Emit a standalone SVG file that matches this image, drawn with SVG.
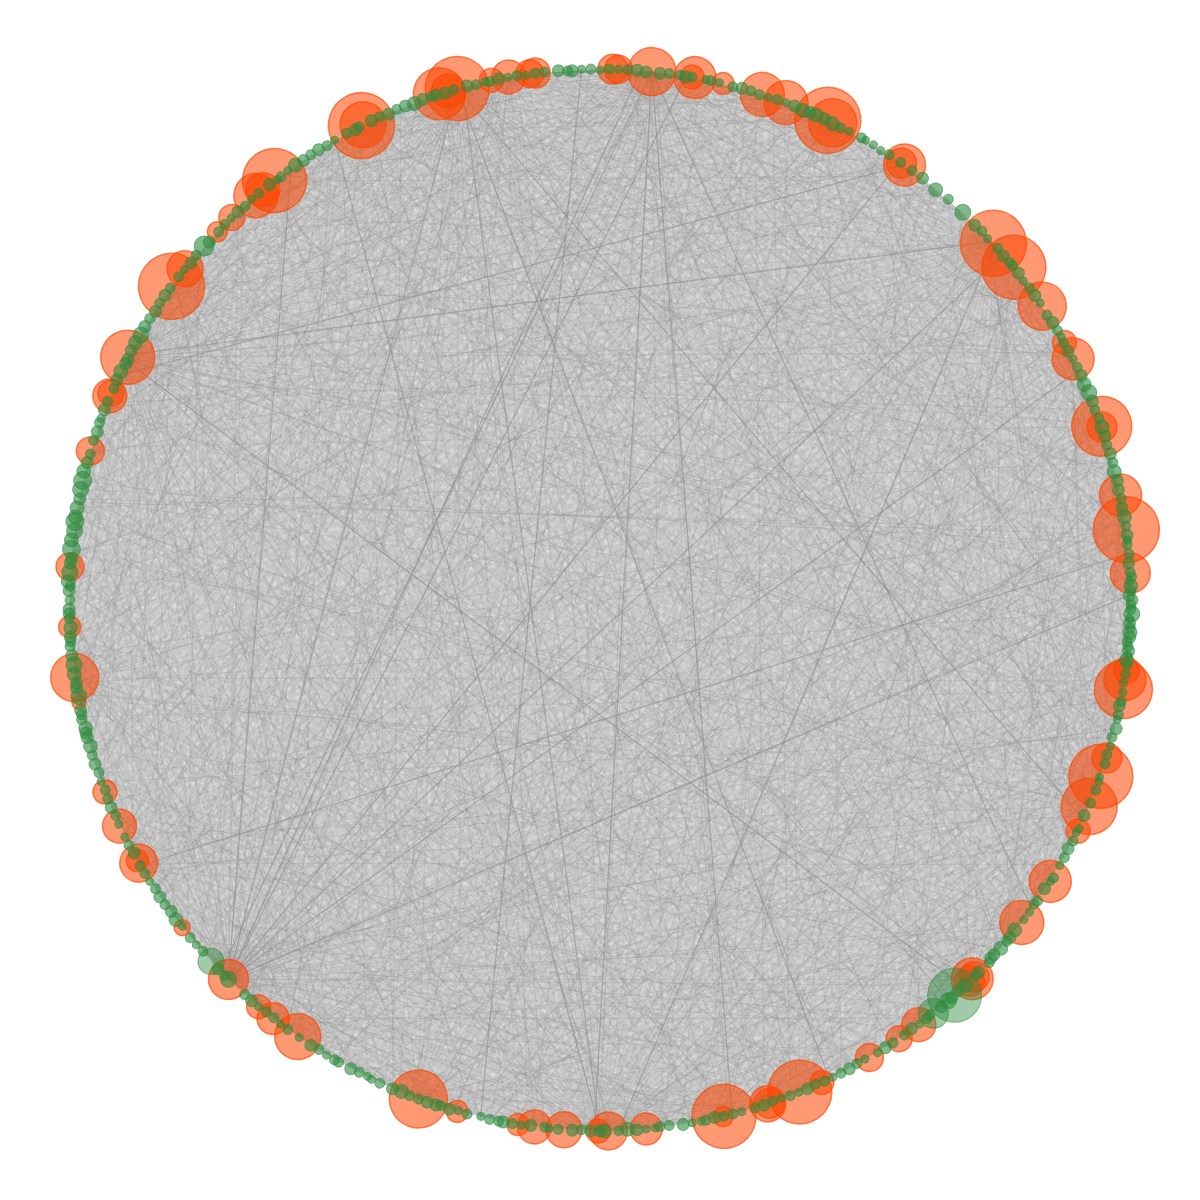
<svg xmlns="http://www.w3.org/2000/svg" width="1200" height="1200" viewBox="0 0 1200 1200">
<style>
.e{stroke:#8e8e8e;stroke-opacity:.26;stroke-width:1;fill:none}
.f{stroke:#8c8c8c;stroke-opacity:.2;stroke-width:1;fill:none}
.s{stroke:#8a8a8a;stroke-opacity:.55;stroke-width:1.3;fill:none}
.o{fill:#ff4500;fill-opacity:.55;stroke:#ff4500;stroke-opacity:.65;stroke-width:1.5}
.g{fill:#2e8b3e;fill-opacity:.6;stroke:#2e8b3e;stroke-opacity:.55;stroke-width:1}
.gl{fill:#2e8b3e;fill-opacity:.45;stroke:#2e8b3e;stroke-opacity:.5;stroke-width:1.2}
</style>
<defs>
<filter id="tex" x="0" y="0" width="100%" height="100%">
<feTurbulence type="fractalNoise" baseFrequency="0.22" numOctaves="2" seed="7" result="n"/>
<feColorMatrix in="n" type="matrix" values="0 0 0 0 1  0 0 0 0 1  0 0 0 0 1  0 0 0 2.2 -0.95" result="w"/>
<feComposite in="w" in2="SourceGraphic" operator="in"/>
</filter>
<clipPath id="disc"><circle cx="0" cy="0" r="531"/></clipPath>
<line id="ray" x1="0" y1="0" x2="-1080" y2="0"/>
<line id="c10" x1="531" y1="0" x2="522.9" y2="92.2"/>
<line id="c15" x1="531" y1="0" x2="512.9" y2="137.4"/>
<line id="c20" x1="531" y1="0" x2="499" y2="181.6"/>
<line id="c25" x1="531" y1="0" x2="481.2" y2="224.4"/>
<line id="c30" x1="531" y1="0" x2="459.8" y2="265.5"/>
<line id="c35" x1="531" y1="0" x2="435" y2="304.6"/>
<line id="c40" x1="531" y1="0" x2="406.8" y2="341.3"/>
<line id="c45" x1="531" y1="0" x2="375.5" y2="375.5"/>
<line id="c50" x1="531" y1="0" x2="341.3" y2="406.8"/>
<line id="c55" x1="531" y1="0" x2="304.6" y2="435"/>
<line id="c60" x1="531" y1="0" x2="265.5" y2="459.8"/>
<line id="c65" x1="531" y1="0" x2="224.4" y2="481.2"/>
<line id="c70" x1="531" y1="0" x2="181.6" y2="499"/>
<line id="c75" x1="531" y1="0" x2="137.4" y2="512.9"/>
<line id="c80" x1="531" y1="0" x2="92.2" y2="522.9"/>
<line id="c85" x1="531" y1="0" x2="46.3" y2="529"/>
<line id="c90" x1="531" y1="0" x2="0" y2="531"/>
<line id="c95" x1="531" y1="0" x2="-46.3" y2="529"/>
<line id="c100" x1="531" y1="0" x2="-92.2" y2="522.9"/>
<line id="c105" x1="531" y1="0" x2="-137.4" y2="512.9"/>
<line id="c110" x1="531" y1="0" x2="-181.6" y2="499"/>
<line id="c115" x1="531" y1="0" x2="-224.4" y2="481.2"/>
<line id="c120" x1="531" y1="0" x2="-265.5" y2="459.8"/>
<line id="c125" x1="531" y1="0" x2="-304.6" y2="435"/>
<line id="c130" x1="531" y1="0" x2="-341.3" y2="406.8"/>
<line id="c135" x1="531" y1="0" x2="-375.5" y2="375.5"/>
<line id="c140" x1="531" y1="0" x2="-406.8" y2="341.3"/>
<line id="c145" x1="531" y1="0" x2="-435" y2="304.6"/>
<line id="c150" x1="531" y1="0" x2="-459.8" y2="265.5"/>
<line id="c155" x1="531" y1="0" x2="-481.2" y2="224.4"/>
<line id="c160" x1="531" y1="0" x2="-499" y2="181.6"/>
<line id="c165" x1="531" y1="0" x2="-512.9" y2="137.4"/>
<line id="c170" x1="531" y1="0" x2="-522.9" y2="92.2"/>
<line id="c175" x1="531" y1="0" x2="-529" y2="46.3"/>
<line id="c180" x1="531" y1="0" x2="-531" y2="0"/>
<g id="fan">
<use href="#ray" transform="rotate(-84)"/><use href="#ray" transform="rotate(-80)"/><use href="#ray" transform="rotate(-76.5)"/><use href="#ray" transform="rotate(-73)"/><use href="#ray" transform="rotate(-69)"/><use href="#ray" transform="rotate(-66)"/><use href="#ray" transform="rotate(-62.5)"/><use href="#ray" transform="rotate(-59)"/><use href="#ray" transform="rotate(-55)"/><use href="#ray" transform="rotate(-52)"/><use href="#ray" transform="rotate(-48.5)"/><use href="#ray" transform="rotate(-45)"/><use href="#ray" transform="rotate(-41.5)"/><use href="#ray" transform="rotate(-38)"/><use href="#ray" transform="rotate(-35)"/><use href="#ray" transform="rotate(-31.5)"/><use href="#ray" transform="rotate(-28)"/><use href="#ray" transform="rotate(-24.5)"/><use href="#ray" transform="rotate(-21)"/><use href="#ray" transform="rotate(-17.5)"/><use href="#ray" transform="rotate(-14)"/><use href="#ray" transform="rotate(-10.5)"/><use href="#ray" transform="rotate(-7)"/><use href="#ray" transform="rotate(-3.5)"/><use href="#ray"/><use href="#ray" transform="rotate(3.3)"/><use href="#ray" transform="rotate(6.8)"/><use href="#ray" transform="rotate(10.2)"/><use href="#ray" transform="rotate(13.9)"/><use href="#ray" transform="rotate(17.1)"/><use href="#ray" transform="rotate(20.6)"/><use href="#ray" transform="rotate(24.2)"/><use href="#ray" transform="rotate(27.5)"/><use href="#ray" transform="rotate(31.1)"/><use href="#ray" transform="rotate(34.4)"/><use href="#ray" transform="rotate(37.9)"/><use href="#ray" transform="rotate(41.2)"/><use href="#ray" transform="rotate(44.8)"/><use href="#ray" transform="rotate(48.3)"/><use href="#ray" transform="rotate(51.6)"/><use href="#ray" transform="rotate(55.2)"/><use href="#ray" transform="rotate(58.7)"/><use href="#ray" transform="rotate(62.1)"/><use href="#ray" transform="rotate(65.6)"/><use href="#ray" transform="rotate(69.2)"/><use href="#ray" transform="rotate(72.5)"/><use href="#ray" transform="rotate(76.1)"/><use href="#ray" transform="rotate(79.4)"/><use href="#ray" transform="rotate(83)"/>
</g>
<g id="fan2">
<use href="#ray" transform="rotate(-82)"/><use href="#ray" transform="rotate(-74)"/><use href="#ray" transform="rotate(-65)"/><use href="#ray" transform="rotate(-57)"/><use href="#ray" transform="rotate(-49)"/><use href="#ray" transform="rotate(-41)"/><use href="#ray" transform="rotate(-33)"/><use href="#ray" transform="rotate(-25)"/><use href="#ray" transform="rotate(-17)"/><use href="#ray" transform="rotate(-9)"/><use href="#ray" transform="rotate(-1)"/><use href="#ray" transform="rotate(7.5)"/><use href="#ray" transform="rotate(15.5)"/><use href="#ray" transform="rotate(23.8)"/><use href="#ray" transform="rotate(31.7)"/><use href="#ray" transform="rotate(39.6)"/><use href="#ray" transform="rotate(47.9)"/><use href="#ray" transform="rotate(56.3)"/><use href="#ray" transform="rotate(64.4)"/><use href="#ray" transform="rotate(72.8)"/><use href="#ray" transform="rotate(81)"/>
</g>
</defs>
<rect width="1200" height="1200" fill="#ffffff"/>
<g id="hairball">
<circle cx="600" cy="600" r="530" fill="#c6c6c6"/>
<circle cx="600" cy="600" r="528" fill="#000" filter="url(#tex)" opacity="0.45"/>
</g>
<g id="edges" transform="translate(600 600)">
<g clip-path="url(#disc)">
<use href="#fan" class="f" transform="rotate(207.2) translate(531 0)"/>
<use href="#fan" class="f" transform="rotate(134.4) translate(531 0) rotate(1.3)"/>
<use href="#fan" class="f" transform="rotate(90) translate(531 0) rotate(2.1)"/>
<use href="#fan" class="f" transform="rotate(254.4) translate(531 0) rotate(-1.7)"/>
<use href="#fan" class="f" transform="rotate(275.6) translate(531 0) rotate(0.8)"/>
<use href="#fan" class="f" transform="rotate(317.8) translate(531 0) rotate(-0.6)"/>
<use href="#fan2" class="f" transform="rotate(243.3) translate(531 0) rotate(0.9)"/>
<use href="#fan2" class="f" transform="rotate(295.4) translate(531 0) rotate(-1.2)"/>
<use href="#fan2" class="f" transform="rotate(76.5) translate(531 0) rotate(1.8)"/>
<use href="#fan2" class="f" transform="rotate(45.5) translate(531 0) rotate(-0.4)"/>
<use href="#fan2" class="f" transform="rotate(340.9) translate(531 0) rotate(2.4)"/>
<use href="#fan2" class="f" transform="rotate(9.7) translate(531 0) rotate(-2.2)"/>
<use href="#fan2" class="f" transform="rotate(171.6) translate(531 0) rotate(1.1)"/>
<use href="#fan2" class="f" transform="rotate(22.9) translate(531 0) rotate(0.5)"/>
<use href="#fan2" class="f" transform="rotate(110) translate(531 0) rotate(-1.5)"/>
<use href="#fan2" class="f" transform="rotate(352.4) translate(531 0) rotate(1.6)"/>
<use href="#fan2" class="f" transform="rotate(216.2) translate(531 0) rotate(-0.8)"/>
<use href="#fan2" class="f" transform="rotate(232.2) translate(531 0) rotate(2.7)"/>
<use href="#fan2" class="f" transform="rotate(67.9) translate(531 0) rotate(-2.6)"/>
<use href="#fan2" class="f" transform="rotate(19.4) translate(531 0) rotate(1.9)"/>
<use href="#fan2" class="f" transform="rotate(124.7) translate(531 0) rotate(0.3)"/>
<use href="#fan2" class="f" transform="rotate(150.3) translate(531 0) rotate(-1.9)"/>
<use href="#fan2" class="f" transform="rotate(333) translate(531 0) rotate(0.6)"/>
<use href="#fan2" class="f" transform="rotate(37.4) translate(531 0) rotate(-1.1)"/>
<use href="#fan2" class="f" transform="rotate(260.1) translate(531 0) rotate(1.4)"/>
<use href="#fan2" class="f" transform="rotate(207.2) translate(531 0) rotate(1.7)"/>
<use href="#fan2" class="f" transform="rotate(134.4) translate(531 0) rotate(-2.3)"/>
<use href="#ray" class="e" transform="rotate(4) translate(531 0) rotate(-37)"/><use href="#ray" class="e" transform="rotate(13) translate(531 0) rotate(22)"/><use href="#ray" class="e" transform="rotate(19) translate(531 0) rotate(-61)"/><use href="#ray" class="e" transform="rotate(28) translate(531 0) rotate(48)"/><use href="#ray" class="e" transform="rotate(34) translate(531 0) rotate(-12)"/><use href="#ray" class="e" transform="rotate(43) translate(531 0) rotate(67)"/><use href="#ray" class="e" transform="rotate(50) translate(531 0) rotate(-29)"/><use href="#ray" class="e" transform="rotate(57) translate(531 0) rotate(8)"/><use href="#ray" class="e" transform="rotate(64) translate(531 0) rotate(-53)"/><use href="#ray" class="e" transform="rotate(71) translate(531 0) rotate(35)"/><use href="#ray" class="e" transform="rotate(79) translate(531 0) rotate(-18)"/><use href="#ray" class="e" transform="rotate(84) translate(531 0) rotate(59)"/><use href="#ray" class="e" transform="rotate(93) translate(531 0) rotate(-44)"/><use href="#ray" class="e" transform="rotate(99) translate(531 0) rotate(13)"/><use href="#ray" class="e" transform="rotate(106) translate(531 0) rotate(-71)"/><use href="#ray" class="e" transform="rotate(114) translate(531 0) rotate(27)"/><use href="#ray" class="e" transform="rotate(121) translate(531 0) rotate(-6)"/><use href="#ray" class="e" transform="rotate(128) translate(531 0) rotate(52)"/><use href="#ray" class="e" transform="rotate(136) translate(531 0) rotate(-33)"/><use href="#ray" class="e" transform="rotate(142) translate(531 0) rotate(71)"/><use href="#ray" class="e" transform="rotate(149) translate(531 0) rotate(-24)"/><use href="#ray" class="e" transform="rotate(156) translate(531 0) rotate(41)"/><use href="#ray" class="e" transform="rotate(164) translate(531 0) rotate(-58)"/><use href="#ray" class="e" transform="rotate(170) translate(531 0) rotate(16)"/><use href="#ray" class="e" transform="rotate(178) translate(531 0) rotate(-39)"/><use href="#ray" class="e" transform="rotate(186) translate(531 0) rotate(63)"/><use href="#ray" class="e" transform="rotate(192) translate(531 0) rotate(-9)"/><use href="#ray" class="e" transform="rotate(199) translate(531 0) rotate(33)"/><use href="#ray" class="e" transform="rotate(205) translate(531 0) rotate(-66)"/><use href="#ray" class="e" transform="rotate(213) translate(531 0) rotate(5)"/><use href="#ray" class="e" transform="rotate(219) translate(531 0) rotate(-47)"/><use href="#ray" class="e" transform="rotate(226) translate(531 0) rotate(29)"/><use href="#ray" class="e" transform="rotate(233) translate(531 0) rotate(-15)"/><use href="#ray" class="e" transform="rotate(239) translate(531 0) rotate(56)"/><use href="#ray" class="e" transform="rotate(247) translate(531 0) rotate(-31)"/><use href="#ray" class="e" transform="rotate(253) translate(531 0) rotate(12)"/><use href="#ray" class="e" transform="rotate(261) translate(531 0) rotate(-74)"/><use href="#ray" class="e" transform="rotate(266) translate(531 0) rotate(38)"/><use href="#ray" class="e" transform="rotate(274) translate(531 0) rotate(-21)"/><use href="#ray" class="e" transform="rotate(281) translate(531 0) rotate(64)"/><use href="#ray" class="e" transform="rotate(288) translate(531 0) rotate(-42)"/><use href="#ray" class="e" transform="rotate(296) translate(531 0) rotate(19)"/><use href="#ray" class="e" transform="rotate(302) translate(531 0) rotate(-8)"/><use href="#ray" class="e" transform="rotate(310) translate(531 0) rotate(47)"/><use href="#ray" class="e" transform="rotate(317) translate(531 0) rotate(-56)"/><use href="#ray" class="e" transform="rotate(324) translate(531 0) rotate(26)"/><use href="#ray" class="e" transform="rotate(332) translate(531 0) rotate(-13)"/><use href="#ray" class="e" transform="rotate(339) translate(531 0) rotate(69)"/><use href="#ray" class="e" transform="rotate(346) translate(531 0) rotate(-35)"/><use href="#ray" class="e" transform="rotate(353) translate(531 0) rotate(9)"/>
<use href="#ray" class="e" transform="rotate(8) translate(531 0) rotate(44)"/><use href="#ray" class="e" transform="rotate(24) translate(531 0) rotate(-27)"/><use href="#ray" class="e" transform="rotate(39) translate(531 0) rotate(15)"/><use href="#ray" class="e" transform="rotate(55) translate(531 0) rotate(-41)"/><use href="#ray" class="e" transform="rotate(68) translate(531 0) rotate(72)"/><use href="#ray" class="e" transform="rotate(87) translate(531 0) rotate(-3)"/><use href="#ray" class="e" transform="rotate(102) translate(531 0) rotate(36)"/><use href="#ray" class="e" transform="rotate(117) translate(531 0) rotate(-62)"/><use href="#ray" class="e" transform="rotate(133) translate(531 0) rotate(19)"/><use href="#ray" class="e" transform="rotate(147) translate(531 0) rotate(-14)"/><use href="#ray" class="e" transform="rotate(161) translate(531 0) rotate(50)"/><use href="#ray" class="e" transform="rotate(175) translate(531 0) rotate(-28)"/><use href="#ray" class="e" transform="rotate(189) translate(531 0) rotate(7)"/><use href="#ray" class="e" transform="rotate(203) translate(531 0) rotate(-52)"/><use href="#ray" class="e" transform="rotate(217) translate(531 0) rotate(42)"/><use href="#ray" class="e" transform="rotate(231) translate(531 0) rotate(-1)"/><use href="#ray" class="e" transform="rotate(245) translate(531 0) rotate(-68)"/><use href="#ray" class="e" transform="rotate(259) translate(531 0) rotate(25)"/><use href="#ray" class="e" transform="rotate(272) translate(531 0) rotate(54)"/><use href="#ray" class="e" transform="rotate(285) translate(531 0) rotate(-11)"/><use href="#ray" class="e" transform="rotate(299) translate(531 0) rotate(31)"/><use href="#ray" class="e" transform="rotate(313) translate(531 0) rotate(-37)"/><use href="#ray" class="e" transform="rotate(327) translate(531 0) rotate(61)"/><use href="#ray" class="e" transform="rotate(341) translate(531 0) rotate(-19)"/><use href="#ray" class="e" transform="rotate(356) translate(531 0) rotate(45)"/>
</g>
<use href="#c125" class="e" transform="rotate(3)"/><use href="#c150" class="e" transform="rotate(11)"/><use href="#c95" class="e" transform="rotate(17)"/><use href="#c170" class="e" transform="rotate(24)"/><use href="#c60" class="e" transform="rotate(29)"/><use href="#c140" class="e" transform="rotate(36)"/><use href="#c115" class="e" transform="rotate(41)"/><use href="#c175" class="e" transform="rotate(47)"/><use href="#c85" class="e" transform="rotate(52)"/><use href="#c130" class="e" transform="rotate(58)"/><use href="#c155" class="e" transform="rotate(63)"/><use href="#c100" class="e" transform="rotate(69)"/><use href="#c45" class="e" transform="rotate(74)"/><use href="#c165" class="e" transform="rotate(80)"/><use href="#c120" class="e" transform="rotate(86)"/><use href="#c70" class="e" transform="rotate(91)"/><use href="#c145" class="e" transform="rotate(97)"/><use href="#c180" class="e" transform="rotate(102)"/><use href="#c90" class="e" transform="rotate(108)"/><use href="#c135" class="e" transform="rotate(113)"/><use href="#c160" class="e" transform="rotate(119)"/><use href="#c55" class="e" transform="rotate(124)"/><use href="#c110" class="e" transform="rotate(130)"/><use href="#c150" class="e" transform="rotate(135)"/><use href="#c80" class="e" transform="rotate(141)"/><use href="#c170" class="e" transform="rotate(146)"/><use href="#c125" class="e" transform="rotate(152)"/><use href="#c65" class="e" transform="rotate(157)"/><use href="#c140" class="e" transform="rotate(163)"/><use href="#c105" class="e" transform="rotate(168)"/><use href="#c175" class="e" transform="rotate(174)"/><use href="#c50" class="e" transform="rotate(179)"/><use href="#c130" class="e" transform="rotate(185)"/><use href="#c155" class="e" transform="rotate(190)"/><use href="#c95" class="e" transform="rotate(196)"/><use href="#c120" class="e" transform="rotate(201)"/><use href="#c165" class="e" transform="rotate(207)"/><use href="#c75" class="e" transform="rotate(212)"/><use href="#c145" class="e" transform="rotate(218)"/><use href="#c110" class="e" transform="rotate(223)"/><use href="#c180" class="e" transform="rotate(229)"/><use href="#c60" class="e" transform="rotate(234)"/><use href="#c135" class="e" transform="rotate(240)"/><use href="#c160" class="e" transform="rotate(245)"/><use href="#c100" class="e" transform="rotate(251)"/><use href="#c125" class="e" transform="rotate(256)"/><use href="#c170" class="e" transform="rotate(262)"/><use href="#c85" class="e" transform="rotate(267)"/><use href="#c150" class="e" transform="rotate(273)"/><use href="#c115" class="e" transform="rotate(278)"/><use href="#c40" class="e" transform="rotate(284)"/><use href="#c140" class="e" transform="rotate(289)"/><use href="#c175" class="e" transform="rotate(295)"/><use href="#c95" class="e" transform="rotate(300)"/><use href="#c130" class="e" transform="rotate(306)"/><use href="#c155" class="e" transform="rotate(311)"/><use href="#c70" class="e" transform="rotate(317)"/><use href="#c120" class="e" transform="rotate(322)"/><use href="#c165" class="e" transform="rotate(328)"/><use href="#c105" class="e" transform="rotate(333)"/><use href="#c145" class="e" transform="rotate(339)"/><use href="#c50" class="e" transform="rotate(344)"/><use href="#c135" class="e" transform="rotate(350)"/><use href="#c160" class="e" transform="rotate(355)"/>
<use href="#c100" class="e" transform="rotate(6)"/><use href="#c135" class="e" transform="rotate(14)"/><use href="#c165" class="e" transform="rotate(20)"/><use href="#c110" class="e" transform="rotate(27)"/><use href="#c75" class="e" transform="rotate(33)"/><use href="#c150" class="e" transform="rotate(39)"/><use href="#c120" class="e" transform="rotate(44)"/><use href="#c90" class="e" transform="rotate(50)"/><use href="#c160" class="e" transform="rotate(55)"/><use href="#c140" class="e" transform="rotate(61)"/><use href="#c115" class="e" transform="rotate(66)"/><use href="#c175" class="e" transform="rotate(72)"/><use href="#c60" class="e" transform="rotate(77)"/><use href="#c130" class="e" transform="rotate(83)"/><use href="#c155" class="e" transform="rotate(89)"/><use href="#c105" class="e" transform="rotate(94)"/><use href="#c145" class="e" transform="rotate(100)"/><use href="#c80" class="e" transform="rotate(105)"/><use href="#c170" class="e" transform="rotate(111)"/><use href="#c125" class="e" transform="rotate(116)"/><use href="#c95" class="e" transform="rotate(122)"/><use href="#c150" class="e" transform="rotate(127)"/><use href="#c65" class="e" transform="rotate(133)"/><use href="#c140" class="e" transform="rotate(138)"/><use href="#c115" class="e" transform="rotate(144)"/><use href="#c175" class="e" transform="rotate(149)"/><use href="#c100" class="e" transform="rotate(155)"/><use href="#c130" class="e" transform="rotate(160)"/><use href="#c55" class="e" transform="rotate(166)"/><use href="#c160" class="e" transform="rotate(171)"/><use href="#c120" class="e" transform="rotate(177)"/><use href="#c145" class="e" transform="rotate(182)"/><use href="#c85" class="e" transform="rotate(188)"/><use href="#c170" class="e" transform="rotate(193)"/><use href="#c110" class="e" transform="rotate(199)"/><use href="#c135" class="e" transform="rotate(204)"/><use href="#c155" class="e" transform="rotate(210)"/><use href="#c90" class="e" transform="rotate(215)"/><use href="#c125" class="e" transform="rotate(221)"/><use href="#c165" class="e" transform="rotate(226)"/><use href="#c75" class="e" transform="rotate(232)"/><use href="#c140" class="e" transform="rotate(237)"/><use href="#c115" class="e" transform="rotate(243)"/><use href="#c175" class="e" transform="rotate(248)"/><use href="#c95" class="e" transform="rotate(254)"/><use href="#c150" class="e" transform="rotate(259)"/><use href="#c130" class="e" transform="rotate(265)"/><use href="#c60" class="e" transform="rotate(270)"/><use href="#c160" class="e" transform="rotate(276)"/><use href="#c120" class="e" transform="rotate(281)"/><use href="#c145" class="e" transform="rotate(287)"/><use href="#c85" class="e" transform="rotate(292)"/><use href="#c170" class="e" transform="rotate(298)"/><use href="#c110" class="e" transform="rotate(303)"/><use href="#c135" class="e" transform="rotate(309)"/><use href="#c155" class="e" transform="rotate(314)"/><use href="#c95" class="e" transform="rotate(320)"/><use href="#c125" class="e" transform="rotate(325)"/><use href="#c175" class="e" transform="rotate(331)"/><use href="#c65" class="e" transform="rotate(336)"/><use href="#c140" class="e" transform="rotate(342)"/><use href="#c115" class="e" transform="rotate(347)"/><use href="#c150" class="e" transform="rotate(353)"/><use href="#c90" class="e" transform="rotate(358)"/>
<use href="#c170" class="e" transform="rotate(1)"/><use href="#c80" class="e" transform="rotate(8)"/><use href="#c145" class="e" transform="rotate(15)"/><use href="#c115" class="e" transform="rotate(22)"/><use href="#c160" class="e" transform="rotate(31)"/><use href="#c95" class="e" transform="rotate(38)"/><use href="#c130" class="e" transform="rotate(45)"/><use href="#c150" class="e" transform="rotate(53)"/><use href="#c110" class="e" transform="rotate(60)"/><use href="#c165" class="e" transform="rotate(67)"/><use href="#c125" class="e" transform="rotate(75)"/><use href="#c90" class="e" transform="rotate(82)"/><use href="#c140" class="e" transform="rotate(88)"/><use href="#c160" class="e" transform="rotate(96)"/><use href="#c115" class="e" transform="rotate(103)"/><use href="#c150" class="e" transform="rotate(110)"/><use href="#c75" class="e" transform="rotate(118)"/><use href="#c130" class="e" transform="rotate(126)"/><use href="#c170" class="e" transform="rotate(132)"/><use href="#c100" class="e" transform="rotate(139)"/><use href="#c145" class="e" transform="rotate(147)"/><use href="#c120" class="e" transform="rotate(154)"/><use href="#c165" class="e" transform="rotate(161)"/><use href="#c85" class="e" transform="rotate(169)"/><use href="#c140" class="e" transform="rotate(176)"/><use href="#c110" class="e" transform="rotate(184)"/><use href="#c175" class="e" transform="rotate(191)"/><use href="#c130" class="e" transform="rotate(198)"/><use href="#c95" class="e" transform="rotate(206)"/><use href="#c150" class="e" transform="rotate(213)"/><use href="#c70" class="e" transform="rotate(220)"/><use href="#c135" class="e" transform="rotate(227)"/><use href="#c160" class="e" transform="rotate(235)"/><use href="#c105" class="e" transform="rotate(242)"/><use href="#c140" class="e" transform="rotate(249)"/><use href="#c175" class="e" transform="rotate(257)"/><use href="#c115" class="e" transform="rotate(264)"/><use href="#c130" class="e" transform="rotate(271)"/><use href="#c90" class="e" transform="rotate(279)"/><use href="#c155" class="e" transform="rotate(286)"/><use href="#c120" class="e" transform="rotate(293)"/><use href="#c165" class="e" transform="rotate(301)"/><use href="#c80" class="e" transform="rotate(308)"/><use href="#c145" class="e" transform="rotate(316)"/><use href="#c110" class="e" transform="rotate(323)"/><use href="#c150" class="e" transform="rotate(330)"/><use href="#c125" class="e" transform="rotate(338)"/><use href="#c170" class="e" transform="rotate(345)"/><use href="#c100" class="e" transform="rotate(352)"/><use href="#c135" class="e" transform="rotate(359)"/>
<use href="#c110" class="s" transform="rotate(207.5)"/>
<use href="#c100" class="s" transform="rotate(205)"/>
<use href="#c175" class="s" transform="rotate(319.4)"/>
<use href="#c120" class="s" transform="rotate(134.4)"/>
<use href="#c140" class="s" transform="rotate(134.4)"/>
<use href="#c165" class="s" transform="rotate(90)"/>
<use href="#c175" class="s" transform="rotate(275.6)"/>
<use href="#c130" class="s" transform="rotate(318)"/>
<use href="#c155" class="s" transform="rotate(355)"/>
<use href="#c165" class="s" transform="rotate(103)"/>
<use href="#c160" class="s" transform="rotate(46.8)"/>
<use href="#c160" class="s" transform="rotate(334.4)"/>
<use href="#c135" class="s" transform="rotate(359.4)"/>
<use href="#c145" class="s" transform="rotate(134.4)"/>
<use href="#c100" class="s" transform="rotate(134.4)"/>
<use href="#c170" class="s" transform="rotate(134.4)"/>
<use href="#c150" class="s" transform="rotate(90)"/>
<use href="#c130" class="s" transform="rotate(254.4)"/>
<use href="#c170" class="s" transform="rotate(254.4)"/>
<use href="#c120" class="s" transform="rotate(275.6)"/>
<use href="#c160" class="s" transform="rotate(275.6)"/>
<use href="#c140" class="s" transform="rotate(275.6) scale(1 -1)"/>
<use href="#c150" class="e" transform="rotate(207.2)"/>
<use href="#c125" class="e" transform="rotate(207.2)"/>
</g>
<g id="nodes" transform="translate(600 600)">
<g id="o1"><circle class="o" r="33" cx="531" transform="rotate(243.3)"/></g>
<g id="o2"><circle class="o" r="33" cx="531" transform="rotate(216.2)"/></g>
<g id="o3"><circle class="o" r="33" cx="531" transform="rotate(295.4)"/></g>
<g id="o4"><circle class="o" r="33" cx="531" transform="rotate(317.8)"/></g>
<g id="o5"><circle class="o" r="33" cx="531" transform="rotate(352.4)"/></g>
<g id="o6"><circle class="o" r="32" cx="531" transform="rotate(254.4)"/></g>
<g id="o7"><circle class="o" r="32" cx="531" transform="rotate(232.2)"/></g>
<g id="o8"><circle class="o" r="32" cx="531" transform="rotate(321.2)"/></g>
<g id="o9"><circle class="o" r="32" cx="531" transform="rotate(19.4)"/></g>
<g id="o10"><circle class="o" r="32" cx="531" transform="rotate(67.9)"/></g>
<g id="o11"><circle class="o" r="32" cx="531" transform="rotate(76.5)"/></g>
<g id="o12"><circle class="o" r="30" cx="531" transform="rotate(340.9)"/></g>
<g id="o13"><circle class="o" r="29" cx="531" transform="rotate(9.7)"/></g>
<g id="o14"><circle class="o" r="29" cx="531" transform="rotate(110)"/></g>
<g id="o15"><circle class="o" r="28" cx="531" transform="rotate(22.9)"/></g>
<g id="o16"><circle class="o" r="27" cx="531" transform="rotate(207.2)"/></g>
<g id="o17"><circle class="o" r="26" cx="531" transform="rotate(252.4)"/></g>
<g id="o18"><circle class="o" r="24" cx="531" transform="rotate(275.6)"/></g>
<g id="o19"><circle class="o" r="24" cx="531" transform="rotate(296)"/></g>
<g id="o20"><circle class="o" r="24" cx="531" transform="rotate(326.4)"/></g>
<g id="o21"><circle class="o" r="24" cx="531" transform="rotate(171.6)"/></g>
<g id="o22"><circle class="o" r="23" cx="531" transform="rotate(243.5)"/></g>
<g id="o23"><circle class="o" r="23" cx="531" transform="rotate(124.7)"/></g>
<g id="o24"><circle class="o" r="22" cx="531" transform="rotate(287.8)"/></g>
<g id="o25"><circle class="o" r="22" cx="531" transform="rotate(290.5)"/></g>
<g id="o26"><circle class="o" r="22" cx="531" transform="rotate(37.4)"/></g>
<g id="o27"><circle class="o" r="22" cx="531" transform="rotate(229.6)"/></g>
<g id="o28"><circle class="o" r="21" cx="531" transform="rotate(280.3)"/></g>
<g id="o29"><circle class="o" r="21" cx="531" transform="rotate(305)"/></g>
<g id="o30"><circle class="o" r="21" cx="531" transform="rotate(333)"/></g>
<g id="o31"><circle class="o" r="21" cx="531" transform="rotate(348.6)"/></g>
<g id="o32"><circle class="o" r="21" cx="531" transform="rotate(8.6)"/></g>
<g id="o33"><circle class="o" r="21" cx="531" transform="rotate(32)"/></g>
<g id="o34"><circle class="o" r="20" cx="531" transform="rotate(357.1)"/></g>
<g id="o35"><circle class="o" r="20" cx="531" transform="rotate(134.4)"/></g>
<g id="o36"><circle class="o" r="19" cx="531" transform="rotate(89.1)"/></g>
<g id="o37"><circle class="o" r="19" cx="531" transform="rotate(150.3)"/></g>
<g id="o38"><circle class="o" r="18" cx="531" transform="rotate(71.6)"/></g>
<g id="o39"><circle class="o" r="18" cx="531" transform="rotate(93.9)"/></g>
<g id="o40"><circle class="o" r="18" cx="531" transform="rotate(218.6)"/></g>
<g id="o41"><circle class="o" r="17" cx="531" transform="rotate(253.4)"/></g>
<g id="o42"><circle class="o" r="17" cx="531" transform="rotate(260.1)"/></g>
<g id="o43"><circle class="o" r="17" cx="531" transform="rotate(53.1)"/></g>
<g id="o44"><circle class="o" r="17" cx="531" transform="rotate(97.1)"/></g>
<g id="o45"><circle class="o" r="17" cx="531" transform="rotate(154.8)"/></g>
<g id="o46"><circle class="o" r="17" cx="531" transform="rotate(202.6)"/></g>
<g id="o47"><circle class="o" r="17" cx="531" transform="rotate(230.6)"/></g>
<g id="o48"><circle class="o" r="16" cx="531" transform="rotate(85)"/></g>
<g id="o49"><circle class="o" r="16" cx="531" transform="rotate(128)"/></g>
<g id="o50"><circle class="o" r="15" cx="531" transform="rotate(263)"/></g>
<g id="o51"><circle class="o" r="14" cx="531" transform="rotate(262.4)"/></g>
<g id="o52"><circle class="o" r="15" cx="531" transform="rotate(271.4)"/></g>
<g id="o53"><circle class="o" r="14" cx="531" transform="rotate(272)"/></g>
<g id="o54"><circle class="o" r="15" cx="531" transform="rotate(304.6)"/></g>
<g id="o55"><circle class="o" r="15" cx="531" transform="rotate(341)"/></g>
<g id="o56"><circle class="o" r="15" cx="531" transform="rotate(17.3)"/></g>
<g id="o57"><circle class="o" r="21" cx="531" transform="rotate(45.5)"/></g>
<g id="o58"><circle class="o" r="15" cx="531" transform="rotate(45.9)"/></g>
<g id="o59"><circle class="o" r="15" cx="531" transform="rotate(71.4)"/></g>
<g id="o60"><circle class="o" r="14" cx="531" transform="rotate(59.5)"/></g>
<g id="o61"><circle class="o" r="14" cx="531" transform="rotate(183.6)"/></g>
<g id="o62"><circle class="o" r="14" cx="531" transform="rotate(196.3)"/></g>
<g id="o63"><circle class="o" r="13" cx="531" transform="rotate(7.6)"/></g>
<g id="o64"><circle class="o" r="13" cx="531" transform="rotate(55.7)"/></g>
<g id="o65"><circle class="o" r="13" cx="531" transform="rotate(202.9)"/></g>
<g id="o66"><circle class="o" r="13" cx="531" transform="rotate(226.1)"/></g>
<g id="o67"><circle class="o" r="12" cx="531" transform="rotate(258.2)"/></g>
<g id="o68"><circle class="o" r="12" cx="531" transform="rotate(280)"/></g>
<g id="o69"><circle class="o" r="12" cx="531" transform="rotate(331)"/></g>
<g id="o70"><circle class="o" r="12" cx="531" transform="rotate(25.8)"/></g>
<g id="o71"><circle class="o" r="12" cx="531" transform="rotate(65.3)"/></g>
<g id="o72"><circle class="o" r="12" cx="531" transform="rotate(90.2)"/></g>
<g id="o73"><circle class="o" r="12" cx="531" transform="rotate(130)"/></g>
<g id="o74"><circle class="o" r="12" cx="531" transform="rotate(158.8)"/></g>
<g id="o75"><circle class="o" r="11" cx="531" transform="rotate(150.6)"/></g>
<g id="o76"><circle class="o" r="11" cx="531" transform="rotate(283.4)"/></g>
<g id="o77"><circle class="o" r="11" cx="531" transform="rotate(98.9)"/></g>
<g id="o78"><circle class="o" r="11" cx="531" transform="rotate(105.6)"/></g>
<g id="o79"><circle class="o" r="11" cx="531" transform="rotate(177.1)"/></g>
<g id="o80"><circle class="o" r="10" cx="531" transform="rotate(223.9)"/></g>
<g id="o81"><circle class="o" r="10" cx="531" transform="rotate(76.6)"/></g>
<g id="o82"><circle class="o" r="8" cx="531" transform="rotate(141.9)"/></g>
<g id="o83"><circle class="o" r="7" cx="531" transform="rotate(168.9)"/></g>
<g id="o84"><circle class="o" r="15" cx="531" transform="rotate(45.2)"/></g>
<g id="gb1"><circle class="gl" r="27" cx="531" transform="rotate(48.1)"/></g>
<g id="gb2"><circle class="gl" r="15" cx="531" transform="rotate(51.1)"/></g>
<g id="gb3"><circle class="gl" r="13" cx="531" transform="rotate(137.1)"/></g>
<g id="gb4"><circle class="g" r="10" cx="531" transform="rotate(221.8)"/></g>
<g id="g1"><circle class="g" r="5" cx="531" transform="rotate(355)"/></g>
<g id="g2"><circle class="g" r="6" cx="530" transform="rotate(356)"/></g>
<g id="g3"><circle class="g" r="5" cx="532" transform="rotate(357.5)"/></g>
<g id="g4"><circle class="g" r="7" cx="531" transform="rotate(358.5)"/></g>
<g id="g5"><circle class="g" r="6" cx="529" transform="rotate(359.5)"/></g>
<g id="g6"><circle class="g" r="5" cx="531" transform="rotate(0.5)"/></g>
<g id="g7"><circle class="g" r="8" cx="532" transform="rotate(1.5)"/></g>
<g id="g8"><circle class="g" r="6" cx="530" transform="rotate(2.5)"/></g>
<g id="g9"><circle class="g" r="7" cx="531" transform="rotate(3.5)"/></g>
<g id="g10"><circle class="g" r="5" cx="529" transform="rotate(4.5)"/></g>
<g id="g11"><circle class="g" r="6" cx="531" transform="rotate(5.5)"/></g>
<g id="g12"><circle class="g" r="7" cx="530" transform="rotate(6.5)"/></g>
<g id="g13"><circle class="g" r="5" cx="531" transform="rotate(8)"/></g>
<g id="g14"><circle class="g" r="4" cx="531" transform="rotate(10)"/></g>
<g id="g15"><circle class="g" r="6" cx="530" transform="rotate(11.5)"/></g>
<g id="g16"><circle class="g" r="5" cx="531" transform="rotate(12.5)"/></g>
<g id="g17"><circle class="g" r="6" cx="532" transform="rotate(14)"/></g>
<g id="g18"><circle class="g" r="5" cx="530" transform="rotate(15)"/></g>
<g id="g19"><circle class="g" r="4" cx="531" transform="rotate(16)"/></g>
<g id="g20"><circle class="g" r="5" cx="531" transform="rotate(18)"/></g>
<g id="g21"><circle class="g" r="4" cx="530" transform="rotate(19.5)"/></g>
<g id="g22"><circle class="g" r="5" cx="531" transform="rotate(21)"/></g>
<g id="g23"><circle class="g" r="6" cx="530" transform="rotate(24)"/></g>
<g id="g24"><circle class="g" r="4" cx="531" transform="rotate(25.5)"/></g>
<g id="g25"><circle class="g" r="5" cx="531" transform="rotate(27)"/></g>
<g id="g26"><circle class="g" r="6" cx="530" transform="rotate(28)"/></g>
<g id="g27"><circle class="g" r="4" cx="531" transform="rotate(30)"/></g>
<g id="g28"><circle class="g" r="5" cx="532" transform="rotate(31.5)"/></g>
<g id="g29"><circle class="g" r="6" cx="530" transform="rotate(33)"/></g>
<g id="g30"><circle class="g" r="5" cx="531" transform="rotate(34.5)"/></g>
<g id="g31"><circle class="g" r="4" cx="531" transform="rotate(36)"/></g>
<g id="g32"><circle class="g" r="7" cx="530" transform="rotate(38.5)"/></g>
<g id="g33"><circle class="g" r="6" cx="531" transform="rotate(39.5)"/></g>
<g id="g34"><circle class="g" r="7" cx="531" transform="rotate(41)"/></g>
<g id="g35"><circle class="g" r="6" cx="530" transform="rotate(42)"/></g>
<g id="g36"><circle class="g" r="5" cx="532" transform="rotate(43)"/></g>
<g id="g37"><circle class="g" r="6" cx="531" transform="rotate(44.5)"/></g>
<g id="g38"><circle class="g" r="7" cx="531" transform="rotate(46.5)"/></g>
<g id="g39"><circle class="g" r="6" cx="530" transform="rotate(47.5)"/></g>
<g id="g40"><circle class="g" r="8" cx="531" transform="rotate(49)"/></g>
<g id="g41"><circle class="g" r="6" cx="531" transform="rotate(50)"/></g>
<g id="g42"><circle class="g" r="5" cx="531" transform="rotate(52)"/></g>
<g id="g43"><circle class="g" r="6" cx="530" transform="rotate(54)"/></g>
<g id="g44"><circle class="g" r="5" cx="531" transform="rotate(56.5)"/></g>
<g id="g45"><circle class="g" r="6" cx="531" transform="rotate(57.5)"/></g>
<g id="g46"><circle class="g" r="4" cx="531" transform="rotate(58.5)"/></g>
<g id="g47"><circle class="g" r="5" cx="530" transform="rotate(61)"/></g>
<g id="g48"><circle class="g" r="6" cx="531" transform="rotate(62)"/></g>
<g id="g49"><circle class="g" r="5" cx="531" transform="rotate(63)"/></g>
<g id="g50"><circle class="g" r="4" cx="531" transform="rotate(64)"/></g>
<g id="g51"><circle class="g" r="5" cx="530" transform="rotate(66)"/></g>
<g id="g52"><circle class="g" r="6" cx="531" transform="rotate(67)"/></g>
<g id="g53"><circle class="g" r="5" cx="531" transform="rotate(69)"/></g>
<g id="g54"><circle class="g" r="4" cx="530" transform="rotate(70)"/></g>
<g id="g55"><circle class="g" r="6" cx="531" transform="rotate(72)"/></g>
<g id="g56"><circle class="g" r="5" cx="531" transform="rotate(73)"/></g>
<g id="g57"><circle class="g" r="4" cx="531" transform="rotate(74.5)"/></g>
<g id="g58"><circle class="g" r="5" cx="531" transform="rotate(75.5)"/></g>
<g id="g59"><circle class="g" r="6" cx="530" transform="rotate(77.5)"/></g>
<g id="g60"><circle class="g" r="5" cx="531" transform="rotate(78.5)"/></g>
<g id="g61"><circle class="g" r="4" cx="531" transform="rotate(80)"/></g>
<g id="g62"><circle class="g" r="6" cx="531" transform="rotate(81)"/></g>
<g id="g63"><circle class="g" r="5" cx="530" transform="rotate(82.5)"/></g>
<g id="g64"><circle class="g" r="4" cx="531" transform="rotate(84)"/></g>
<g id="g65"><circle class="g" r="6" cx="531" transform="rotate(86)"/></g>
<g id="g66"><circle class="g" r="7" cx="530" transform="rotate(87)"/></g>
<g id="g67"><circle class="g" r="5" cx="531" transform="rotate(88)"/></g>
<g id="g68"><circle class="g" r="7" cx="531" transform="rotate(89.5)"/></g>
<g id="g69"><circle class="g" r="6" cx="531" transform="rotate(91)"/></g>
<g id="g70"><circle class="g" r="5" cx="530" transform="rotate(92)"/></g>
<g id="g71"><circle class="g" r="6" cx="531" transform="rotate(93)"/></g>
<g id="g72"><circle class="g" r="5" cx="531" transform="rotate(94.5)"/></g>
<g id="g73"><circle class="g" r="4" cx="531" transform="rotate(95.5)"/></g>
<g id="g74"><circle class="g" r="6" cx="530" transform="rotate(97.5)"/></g>
<g id="g75"><circle class="g" r="5" cx="531" transform="rotate(99.5)"/></g>
<g id="g76"><circle class="g" r="6" cx="531" transform="rotate(100.5)"/></g>
<g id="g77"><circle class="g" r="5" cx="531" transform="rotate(102)"/></g>
<g id="g78"><circle class="g" r="4" cx="530" transform="rotate(103)"/></g>
<g id="g79"><circle class="g" r="5" cx="531" transform="rotate(104.5)"/></g>
<g id="g80"><circle class="g" r="6" cx="531" transform="rotate(106.5)"/></g>
<g id="g81"><circle class="g" r="5" cx="530" transform="rotate(107.5)"/></g>
<g id="g82"><circle class="g" r="6" cx="531" transform="rotate(109)"/></g>
<g id="g83"><circle class="g" r="5" cx="531" transform="rotate(111)"/></g>
<g id="g84"><circle class="g" r="7" cx="530" transform="rotate(112)"/></g>
<g id="g85"><circle class="g" r="6" cx="531" transform="rotate(113)"/></g>
<g id="g86"><circle class="g" r="5" cx="531" transform="rotate(114.5)"/></g>
<g id="g87"><circle class="g" r="4" cx="531" transform="rotate(115.5)"/></g>
<g id="g88"><circle class="g" r="5" cx="530" transform="rotate(117)"/></g>
<g id="g89"><circle class="g" r="6" cx="531" transform="rotate(118)"/></g>
<g id="g90"><circle class="g" r="5" cx="531" transform="rotate(119.5)"/></g>
<g id="g91"><circle class="g" r="4" cx="531" transform="rotate(121)"/></g>
<g id="g92"><circle class="g" r="5" cx="530" transform="rotate(122)"/></g>
<g id="g93"><circle class="g" r="6" cx="531" transform="rotate(123)"/></g>
<g id="g94"><circle class="g" r="5" cx="531" transform="rotate(126)"/></g>
<g id="g95"><circle class="g" r="4" cx="531" transform="rotate(127)"/></g>
<g id="g96"><circle class="g" r="5" cx="530" transform="rotate(129)"/></g>
<g id="g97"><circle class="g" r="6" cx="531" transform="rotate(131)"/></g>
<g id="g98"><circle class="g" r="5" cx="531" transform="rotate(132)"/></g>
<g id="g99"><circle class="g" r="8" cx="531" transform="rotate(134.4)"/></g>
<g id="g100"><circle class="g" r="6" cx="531" transform="rotate(136)"/></g>
<g id="g101"><circle class="g" r="5" cx="530" transform="rotate(138.5)"/></g>
<g id="g102"><circle class="g" r="4" cx="531" transform="rotate(139.5)"/></g>
<g id="g103"><circle class="g" r="5" cx="531" transform="rotate(140.5)"/></g>
<g id="g104"><circle class="g" r="7" cx="531" transform="rotate(143)"/></g>
<g id="g105"><circle class="g" r="6" cx="530" transform="rotate(144)"/></g>
<g id="g106"><circle class="g" r="5" cx="531" transform="rotate(145)"/></g>
<g id="g107"><circle class="g" r="6" cx="531" transform="rotate(146)"/></g>
<g id="g108"><circle class="g" r="5" cx="530" transform="rotate(147)"/></g>
<g id="g109"><circle class="g" r="4" cx="531" transform="rotate(148)"/></g>
<g id="g110"><circle class="g" r="5" cx="531" transform="rotate(149)"/></g>
<g id="g111"><circle class="g" r="6" cx="530" transform="rotate(151.5)"/></g>
<g id="g112"><circle class="g" r="5" cx="531" transform="rotate(152.5)"/></g>
<g id="g113"><circle class="g" r="4" cx="531" transform="rotate(153.5)"/></g>
<g id="g114"><circle class="g" r="5" cx="530" transform="rotate(156)"/></g>
<g id="g115"><circle class="g" r="6" cx="531" transform="rotate(157)"/></g>
<g id="g116"><circle class="g" r="5" cx="531" transform="rotate(158)"/></g>
<g id="g117"><circle class="g" r="4" cx="531" transform="rotate(160)"/></g>
<g id="g118"><circle class="g" r="5" cx="530" transform="rotate(161)"/></g>
<g id="g119"><circle class="g" r="6" cx="531" transform="rotate(162)"/></g>
<g id="g120"><circle class="g" r="5" cx="531" transform="rotate(163)"/></g>
<g id="g121"><circle class="g" r="7" cx="530" transform="rotate(164)"/></g>
<g id="g122"><circle class="g" r="6" cx="531" transform="rotate(165)"/></g>
<g id="g123"><circle class="g" r="7" cx="530" transform="rotate(166)"/></g>
<g id="g124"><circle class="g" r="5" cx="532" transform="rotate(167)"/></g>
<g id="g125"><circle class="g" r="6" cx="531" transform="rotate(168)"/></g>
<g id="g126"><circle class="g" r="8" cx="530" transform="rotate(169.5)"/></g>
<g id="g127"><circle class="g" r="6" cx="531" transform="rotate(170.5)"/></g>
<g id="g128"><circle class="g" r="7" cx="531" transform="rotate(172)"/></g>
<g id="g129"><circle class="g" r="8" cx="530" transform="rotate(173)"/></g>
<g id="g130"><circle class="g" r="6" cx="531" transform="rotate(174)"/></g>
<g id="g131"><circle class="g" r="5" cx="532" transform="rotate(175)"/></g>
<g id="g132"><circle class="g" r="6" cx="531" transform="rotate(176)"/></g>
<g id="g133"><circle class="g" r="7" cx="530" transform="rotate(177)"/></g>
<g id="g134"><circle class="g" r="5" cx="531" transform="rotate(178)"/></g>
<g id="g135"><circle class="g" r="6" cx="531" transform="rotate(179)"/></g>
<g id="g136"><circle class="g" r="5" cx="530" transform="rotate(180)"/></g>
<g id="g137"><circle class="g" r="6" cx="531" transform="rotate(181)"/></g>
<g id="g138"><circle class="g" r="7" cx="532" transform="rotate(182)"/></g>
<g id="g139"><circle class="g" r="8" cx="531" transform="rotate(183)"/></g>
<g id="g140"><circle class="g" r="6" cx="530" transform="rotate(184.5)"/></g>
<g id="g141"><circle class="g" r="9" cx="531" transform="rotate(185.5)"/></g>
<g id="g142"><circle class="g" r="7" cx="532" transform="rotate(186.5)"/></g>
<g id="g143"><circle class="g" r="8" cx="530" transform="rotate(187.5)"/></g>
<g id="g144"><circle class="g" r="9" cx="531" transform="rotate(188.5)"/></g>
<g id="g145"><circle class="g" r="7" cx="531" transform="rotate(190)"/></g>
<g id="g146"><circle class="g" r="6" cx="530" transform="rotate(191)"/></g>
<g id="g147"><circle class="g" r="8" cx="531" transform="rotate(192)"/></g>
<g id="g148"><circle class="g" r="9" cx="531" transform="rotate(193)"/></g>
<g id="g149"><circle class="g" r="7" cx="532" transform="rotate(194)"/></g>
<g id="g150"><circle class="g" r="6" cx="531" transform="rotate(195)"/></g>
<g id="g151"><circle class="g" r="5" cx="531" transform="rotate(197.5)"/></g>
<g id="g152"><circle class="g" r="6" cx="530" transform="rotate(198.5)"/></g>
<g id="g153"><circle class="g" r="5" cx="531" transform="rotate(199.5)"/></g>
<g id="g154"><circle class="g" r="6" cx="531" transform="rotate(201)"/></g>
<g id="g155"><circle class="g" r="5" cx="530" transform="rotate(203.5)"/></g>
<g id="g156"><circle class="g" r="6" cx="531" transform="rotate(204.5)"/></g>
<g id="g157"><circle class="g" r="7" cx="531" transform="rotate(205.5)"/></g>
<g id="g158"><circle class="g" r="6" cx="530" transform="rotate(206.5)"/></g>
<g id="g159"><circle class="g" r="6" cx="531" transform="rotate(208)"/></g>
<g id="g160"><circle class="g" r="7" cx="531" transform="rotate(209)"/></g>
<g id="g161"><circle class="g" r="8" cx="530" transform="rotate(210)"/></g>
<g id="g162"><circle class="g" r="6" cx="531" transform="rotate(211)"/></g>
<g id="g163"><circle class="g" r="5" cx="531" transform="rotate(212)"/></g>
<g id="g164"><circle class="g" r="6" cx="530" transform="rotate(213)"/></g>
<g id="g165"><circle class="g" r="5" cx="531" transform="rotate(214)"/></g>
<g id="g166"><circle class="g" r="6" cx="531" transform="rotate(215)"/></g>
<g id="g167"><circle class="g" r="5" cx="531" transform="rotate(217.5)"/></g>
<g id="g168"><circle class="g" r="6" cx="530" transform="rotate(219.5)"/></g>
<g id="g169"><circle class="g" r="5" cx="531" transform="rotate(220.5)"/></g>
<g id="g170"><circle class="g" r="6" cx="530" transform="rotate(222.5)"/></g>
<g id="g171"><circle class="g" r="5" cx="531" transform="rotate(225)"/></g>
<g id="g172"><circle class="g" r="6" cx="531" transform="rotate(227)"/></g>
<g id="g173"><circle class="g" r="5" cx="530" transform="rotate(228)"/></g>
<g id="g174"><circle class="g" r="4" cx="531" transform="rotate(229)"/></g>
<g id="g175"><circle class="g" r="6" cx="531" transform="rotate(231.5)"/></g>
<g id="g176"><circle class="g" r="5" cx="530" transform="rotate(233)"/></g>
<g id="g177"><circle class="g" r="4" cx="531" transform="rotate(234)"/></g>
<g id="g178"><circle class="g" r="7" cx="531" transform="rotate(235)"/></g>
<g id="g179"><circle class="g" r="6" cx="530" transform="rotate(236)"/></g>
<g id="g180"><circle class="g" r="5" cx="531" transform="rotate(237)"/></g>
<g id="g181"><circle class="g" r="6" cx="531" transform="rotate(238)"/></g>
<g id="g182"><circle class="g" r="5" cx="530" transform="rotate(239)"/></g>
<g id="g183"><circle class="g" r="4" cx="531" transform="rotate(240)"/></g>
<g id="g184"><circle class="g" r="5" cx="531" transform="rotate(241.5)"/></g>
<g id="g185"><circle class="g" r="6" cx="530" transform="rotate(242.5)"/></g>
<g id="g186"><circle class="g" r="6" cx="531" transform="rotate(244.5)"/></g>
<g id="g187"><circle class="g" r="5" cx="531" transform="rotate(245.5)"/></g>
<g id="g188"><circle class="g" r="6" cx="530" transform="rotate(246.5)"/></g>
<g id="g189"><circle class="g" r="5" cx="531" transform="rotate(247.5)"/></g>
<g id="g190"><circle class="g" r="6" cx="531" transform="rotate(248.5)"/></g>
<g id="g191"><circle class="g" r="7" cx="530" transform="rotate(249.5)"/></g>
<g id="g192"><circle class="g" r="6" cx="531" transform="rotate(250.5)"/></g>
<g id="g193"><circle class="g" r="5" cx="531" transform="rotate(251.5)"/></g>
<g id="g194"><circle class="g" r="6" cx="530" transform="rotate(253)"/></g>
<g id="g195"><circle class="g" r="5" cx="531" transform="rotate(254)"/></g>
<g id="g196"><circle class="g" r="6" cx="531" transform="rotate(255.5)"/></g>
<g id="g197"><circle class="g" r="5" cx="530" transform="rotate(256.5)"/></g>
<g id="g198"><circle class="g" r="4" cx="531" transform="rotate(257.5)"/></g>
<g id="g199"><circle class="g" r="6" cx="531" transform="rotate(259)"/></g>
<g id="g200"><circle class="g" r="5" cx="531" transform="rotate(261)"/></g>
<g id="g201"><circle class="g" r="4" cx="530" transform="rotate(262)"/></g>
<g id="g202"><circle class="g" r="5" cx="531" transform="rotate(264)"/></g>
<g id="g203"><circle class="g" r="6" cx="531" transform="rotate(265.5)"/></g>
<g id="g204"><circle class="g" r="5" cx="530" transform="rotate(266.5)"/></g>
<g id="g205"><circle class="g" r="4" cx="531" transform="rotate(268)"/></g>
<g id="g206"><circle class="g" r="5" cx="531" transform="rotate(269)"/></g>
<g id="g207"><circle class="g" r="4" cx="530" transform="rotate(270)"/></g>
<g id="g208"><circle class="g" r="5" cx="531" transform="rotate(273)"/></g>
<g id="g209"><circle class="g" r="6" cx="531" transform="rotate(274)"/></g>
<g id="g210"><circle class="g" r="6" cx="530" transform="rotate(276.5)"/></g>
<g id="g211"><circle class="g" r="5" cx="531" transform="rotate(277.5)"/></g>
<g id="g212"><circle class="g" r="5" cx="531" transform="rotate(278.7)"/></g>
<g id="g213"><circle class="g" r="6" cx="530" transform="rotate(279.3)"/></g>
<g id="g214"><circle class="g" r="4" cx="531" transform="rotate(281.5)"/></g>
<g id="g215"><circle class="g" r="5" cx="531" transform="rotate(282)"/></g>
<g id="g216"><circle class="g" r="5" cx="530" transform="rotate(284.5)"/></g>
<g id="g217"><circle class="g" r="6" cx="531" transform="rotate(285.5)"/></g>
<g id="g218"><circle class="g" r="5" cx="531" transform="rotate(286.5)"/></g>
<g id="g219"><circle class="g" r="4" cx="530" transform="rotate(288.5)"/></g>
<g id="g220"><circle class="g" r="5" cx="531" transform="rotate(289.5)"/></g>
<g id="g221"><circle class="g" r="6" cx="531" transform="rotate(291.5)"/></g>
<g id="g222"><circle class="g" r="7" cx="530" transform="rotate(292.5)"/></g>
<g id="g223"><circle class="g" r="6" cx="531" transform="rotate(293.3)"/></g>
<g id="g224"><circle class="g" r="7" cx="531" transform="rotate(294)"/></g>
<g id="g225"><circle class="g" r="5" cx="530" transform="rotate(297)"/></g>
<g id="g226"><circle class="g" r="4" cx="531" transform="rotate(298)"/></g>
<g id="g227"><circle class="g" r="5" cx="531" transform="rotate(299.5)"/></g>
<g id="g228"><circle class="g" r="4" cx="531" transform="rotate(301)"/></g>
<g id="g229"><circle class="g" r="4" cx="530" transform="rotate(302)"/></g>
<g id="g230"><circle class="g" r="5" cx="531" transform="rotate(303)"/></g>
<g id="g231"><circle class="g" r="5" cx="531" transform="rotate(306)"/></g>
<g id="g232"><circle class="g" r="6" cx="531" transform="rotate(307.4)"/></g>
<g id="g233"><circle class="g" r="7" cx="530" transform="rotate(309.3)"/></g>
<g id="g234"><circle class="g" r="5" cx="531" transform="rotate(311)"/></g>
<g id="g235"><circle class="g" r="8" cx="531" transform="rotate(313.1)"/></g>
<g id="g236"><circle class="g" r="6" cx="530" transform="rotate(315)"/></g>
<g id="g237"><circle class="g" r="5" cx="531" transform="rotate(316)"/></g>
<g id="g238"><circle class="g" r="5" cx="531" transform="rotate(318.5)"/></g>
<g id="g239"><circle class="g" r="6" cx="530" transform="rotate(319.5)"/></g>
<g id="g240"><circle class="g" r="5" cx="531" transform="rotate(320.5)"/></g>
<g id="g241"><circle class="g" r="6" cx="531" transform="rotate(322)"/></g>
<g id="g242"><circle class="g" r="4" cx="530" transform="rotate(323)"/></g>
<g id="g243"><circle class="g" r="5" cx="531" transform="rotate(324)"/></g>
<g id="g244"><circle class="g" r="6" cx="531" transform="rotate(325)"/></g>
<g id="g245"><circle class="g" r="5" cx="530" transform="rotate(327.5)"/></g>
<g id="g246"><circle class="g" r="6" cx="531" transform="rotate(328.5)"/></g>
<g id="g247"><circle class="g" r="5" cx="531" transform="rotate(329.5)"/></g>
<g id="g248"><circle class="g" r="4" cx="531" transform="rotate(330.3)"/></g>
<g id="g249"><circle class="g" r="6" cx="530" transform="rotate(332)"/></g>
<g id="g250"><circle class="g" r="5" cx="531" transform="rotate(334)"/></g>
<g id="g251"><circle class="g" r="6" cx="531" transform="rotate(335)"/></g>
<g id="g252"><circle class="g" r="7" cx="530" transform="rotate(336)"/></g>
<g id="g253"><circle class="g" r="8" cx="531" transform="rotate(337)"/></g>
<g id="g254"><circle class="g" r="6" cx="531" transform="rotate(338)"/></g>
<g id="g255"><circle class="g" r="5" cx="530" transform="rotate(339)"/></g>
<g id="g256"><circle class="g" r="7" cx="531" transform="rotate(341)"/></g>
<g id="g257"><circle class="g" r="6" cx="531" transform="rotate(342)"/></g>
<g id="g258"><circle class="g" r="5" cx="530" transform="rotate(343)"/></g>
<g id="g259"><circle class="g" r="6" cx="531" transform="rotate(344)"/></g>
<g id="g260"><circle class="g" r="5" cx="531" transform="rotate(345)"/></g>
<g id="g261"><circle class="g" r="7" cx="530" transform="rotate(346)"/></g>
<g id="g262"><circle class="g" r="6" cx="531" transform="rotate(347)"/></g>
<g id="g263"><circle class="g" r="5" cx="531" transform="rotate(349)"/></g>
<g id="g264"><circle class="g" r="6" cx="530" transform="rotate(350)"/></g>
<g id="g265"><circle class="g" r="7" cx="531" transform="rotate(351)"/></g>
<g id="g266"><circle class="g" r="6" cx="531" transform="rotate(353)"/></g>
<g id="g267"><circle class="g" r="5" cx="530" transform="rotate(354)"/></g>
<g id="g268"><circle class="g" r="5" cx="531" transform="rotate(357)"/></g>
<g id="g269"><circle class="g" r="4" cx="530" transform="rotate(358)"/></g>
<g id="g270"><circle class="g" r="5" cx="531" transform="rotate(359)"/></g>
<g id="g271"><circle class="g" r="6" cx="532" transform="rotate(0)"/></g>
<g id="g272"><circle class="g" r="5" cx="531" transform="rotate(1)"/></g>
<g id="g273"><circle class="g" r="4" cx="530" transform="rotate(2)"/></g>
<g id="g274"><circle class="g" r="5" cx="531" transform="rotate(3)"/></g>
<g id="g275"><circle class="g" r="6" cx="531" transform="rotate(4)"/></g>
<g id="g276"><circle class="g" r="5" cx="530" transform="rotate(5)"/></g>
<g id="g277"><circle class="g" r="4" cx="531" transform="rotate(6)"/></g>
<g id="g278"><circle class="g" r="5" cx="531" transform="rotate(7)"/></g>
<g id="g279"><circle class="g" r="4" cx="530" transform="rotate(9)"/></g>
<g id="g280"><circle class="g" r="5" cx="531" transform="rotate(11)"/></g>
<g id="g281"><circle class="g" r="4" cx="531" transform="rotate(13)"/></g>
<g id="g282"><circle class="g" r="5" cx="530" transform="rotate(17)"/></g>
<g id="g283"><circle class="g" r="4" cx="531" transform="rotate(20)"/></g>
<g id="g284"><circle class="g" r="5" cx="531" transform="rotate(22.5)"/></g>
<g id="g285"><circle class="g" r="4" cx="530" transform="rotate(26)"/></g>
<g id="g286"><circle class="g" r="5" cx="531" transform="rotate(29)"/></g>
<g id="g287"><circle class="g" r="4" cx="531" transform="rotate(32)"/></g>
<g id="g288"><circle class="g" r="5" cx="530" transform="rotate(35)"/></g>
<g id="g289"><circle class="g" r="4" cx="531" transform="rotate(37)"/></g>
<g id="g290"><circle class="g" r="5" cx="531" transform="rotate(40)"/></g>
<g id="g291"><circle class="g" r="6" cx="530" transform="rotate(42.5)"/></g>
<g id="g292"><circle class="g" r="5" cx="531" transform="rotate(45)"/></g>
<g id="g293"><circle class="g" r="6" cx="531" transform="rotate(48.5)"/></g>
<g id="g294"><circle class="g" r="5" cx="530" transform="rotate(51.5)"/></g>
<g id="g295"><circle class="g" r="4" cx="531" transform="rotate(53)"/></g>
<g id="g296"><circle class="g" r="5" cx="531" transform="rotate(55)"/></g>
<g id="g297"><circle class="g" r="4" cx="530" transform="rotate(60)"/></g>
<g id="g298"><circle class="g" r="5" cx="531" transform="rotate(65)"/></g>
<g id="g299"><circle class="g" r="4" cx="531" transform="rotate(68)"/></g>
<g id="g300"><circle class="g" r="5" cx="530" transform="rotate(71)"/></g>
<g id="g301"><circle class="g" r="5" cx="531" transform="rotate(76.5)"/></g>
<g id="g302"><circle class="g" r="4" cx="531" transform="rotate(79)"/></g>
<g id="g303"><circle class="g" r="5" cx="530" transform="rotate(83.5)"/></g>
<g id="g304"><circle class="g" r="4" cx="531" transform="rotate(85)"/></g>
<g id="g305"><circle class="g" r="6" cx="531" transform="rotate(90)"/></g>
<g id="g306"><circle class="g" r="5" cx="530" transform="rotate(96)"/></g>
<g id="g307"><circle class="g" r="4" cx="531" transform="rotate(98.5)"/></g>
<g id="g308"><circle class="g" r="5" cx="531" transform="rotate(101)"/></g>
<g id="g309"><circle class="g" r="4" cx="530" transform="rotate(105.5)"/></g>
<g id="g310"><circle class="g" r="6" cx="531" transform="rotate(108)"/></g>
<g id="g311"><circle class="g" r="5" cx="531" transform="rotate(110)"/></g>
<g id="g312"><circle class="g" r="4" cx="530" transform="rotate(116)"/></g>
<g id="g313"><circle class="g" r="5" cx="531" transform="rotate(120)"/></g>
<g id="g314"><circle class="g" r="4" cx="531" transform="rotate(124.5)"/></g>
<g id="g315"><circle class="g" r="5" cx="530" transform="rotate(128)"/></g>
<g id="g316"><circle class="g" r="4" cx="531" transform="rotate(130)"/></g>
<g id="g317"><circle class="g" r="5" cx="531" transform="rotate(135)"/></g>
<g id="g318"><circle class="g" r="4" cx="530" transform="rotate(142)"/></g>
<g id="g319"><circle class="g" r="5" cx="531" transform="rotate(150)"/></g>
<g id="g320"><circle class="g" r="4" cx="531" transform="rotate(155)"/></g>
<g id="g321"><circle class="g" r="5" cx="530" transform="rotate(159)"/></g>
<g id="g322"><circle class="g" r="6" cx="531" transform="rotate(165.5)"/></g>
<g id="g323"><circle class="g" r="5" cx="531" transform="rotate(167.5)"/></g>
<g id="g324"><circle class="g" r="6" cx="530" transform="rotate(171)"/></g>
<g id="g325"><circle class="g" r="5" cx="531" transform="rotate(175.5)"/></g>
<g id="g326"><circle class="g" r="6" cx="531" transform="rotate(178.5)"/></g>
<g id="g327"><circle class="g" r="5" cx="530" transform="rotate(181.5)"/></g>
<g id="g328"><circle class="g" r="6" cx="531" transform="rotate(184)"/></g>
<g id="g329"><circle class="g" r="7" cx="531" transform="rotate(189)"/></g>
<g id="g330"><circle class="g" r="5" cx="530" transform="rotate(196)"/></g>
<g id="g331"><circle class="g" r="4" cx="531" transform="rotate(200)"/></g>
<g id="g332"><circle class="g" r="5" cx="531" transform="rotate(202)"/></g>
<g id="g333"><circle class="g" r="6" cx="530" transform="rotate(207)"/></g>
<g id="g334"><circle class="g" r="5" cx="531" transform="rotate(216)"/></g>
<g id="g335"><circle class="g" r="4" cx="531" transform="rotate(218.5)"/></g>
<g id="g336"><circle class="g" r="5" cx="530" transform="rotate(224)"/></g>
<g id="g337"><circle class="g" r="4" cx="531" transform="rotate(226)"/></g>
<g id="g338"><circle class="g" r="5" cx="531" transform="rotate(230)"/></g>
<g id="g339"><circle class="g" r="4" cx="530" transform="rotate(232.5)"/></g>
<g id="g340"><circle class="g" r="5" cx="531" transform="rotate(243)"/></g>
<g id="g341"><circle class="g" r="6" cx="531" transform="rotate(252)"/></g>
<g id="g342"><circle class="g" r="5" cx="530" transform="rotate(258)"/></g>
<g id="g343"><circle class="g" r="4" cx="531" transform="rotate(260)"/></g>
<g id="g344"><circle class="g" r="5" cx="531" transform="rotate(263)"/></g>
<g id="g345"><circle class="g" r="6" cx="530" transform="rotate(267)"/></g>
<g id="g346"><circle class="g" r="5" cx="531" transform="rotate(271)"/></g>
<g id="g347"><circle class="g" r="4" cx="531" transform="rotate(272)"/></g>
<g id="g348"><circle class="g" r="6" cx="530" transform="rotate(275)"/></g>
<g id="g349"><circle class="g" r="5" cx="531" transform="rotate(280)"/></g>
<g id="g350"><circle class="g" r="4" cx="531" transform="rotate(283)"/></g>
<g id="g351"><circle class="g" r="5" cx="530" transform="rotate(287.5)"/></g>
<g id="g352"><circle class="g" r="4" cx="531" transform="rotate(290.5)"/></g>
<g id="g353"><circle class="g" r="6" cx="531" transform="rotate(295)"/></g>
<g id="g354"><circle class="g" r="7" cx="530" transform="rotate(296)"/></g>
<g id="g355"><circle class="g" r="4" cx="531" transform="rotate(300)"/></g>
<g id="g356"><circle class="g" r="5" cx="531" transform="rotate(304.5)"/></g>
<g id="g357"><circle class="g" r="4" cx="530" transform="rotate(317)"/></g>
<g id="g358"><circle class="g" r="5" cx="531" transform="rotate(321)"/></g>
<g id="g359"><circle class="g" r="4" cx="531" transform="rotate(326)"/></g>
<g id="g360"><circle class="g" r="5" cx="530" transform="rotate(331)"/></g>
<g id="g361"><circle class="g" r="4" cx="531" transform="rotate(333)"/></g>
<g id="g362"><circle class="g" r="5" cx="531" transform="rotate(340)"/></g>
<g id="g363"><circle class="g" r="6" cx="530" transform="rotate(348)"/></g>
<g id="g364"><circle class="g" r="5" cx="531" transform="rotate(352)"/></g>
<g id="g365"><circle class="g" r="4" cx="531" transform="rotate(353.5)"/></g>
</g>
</svg>
